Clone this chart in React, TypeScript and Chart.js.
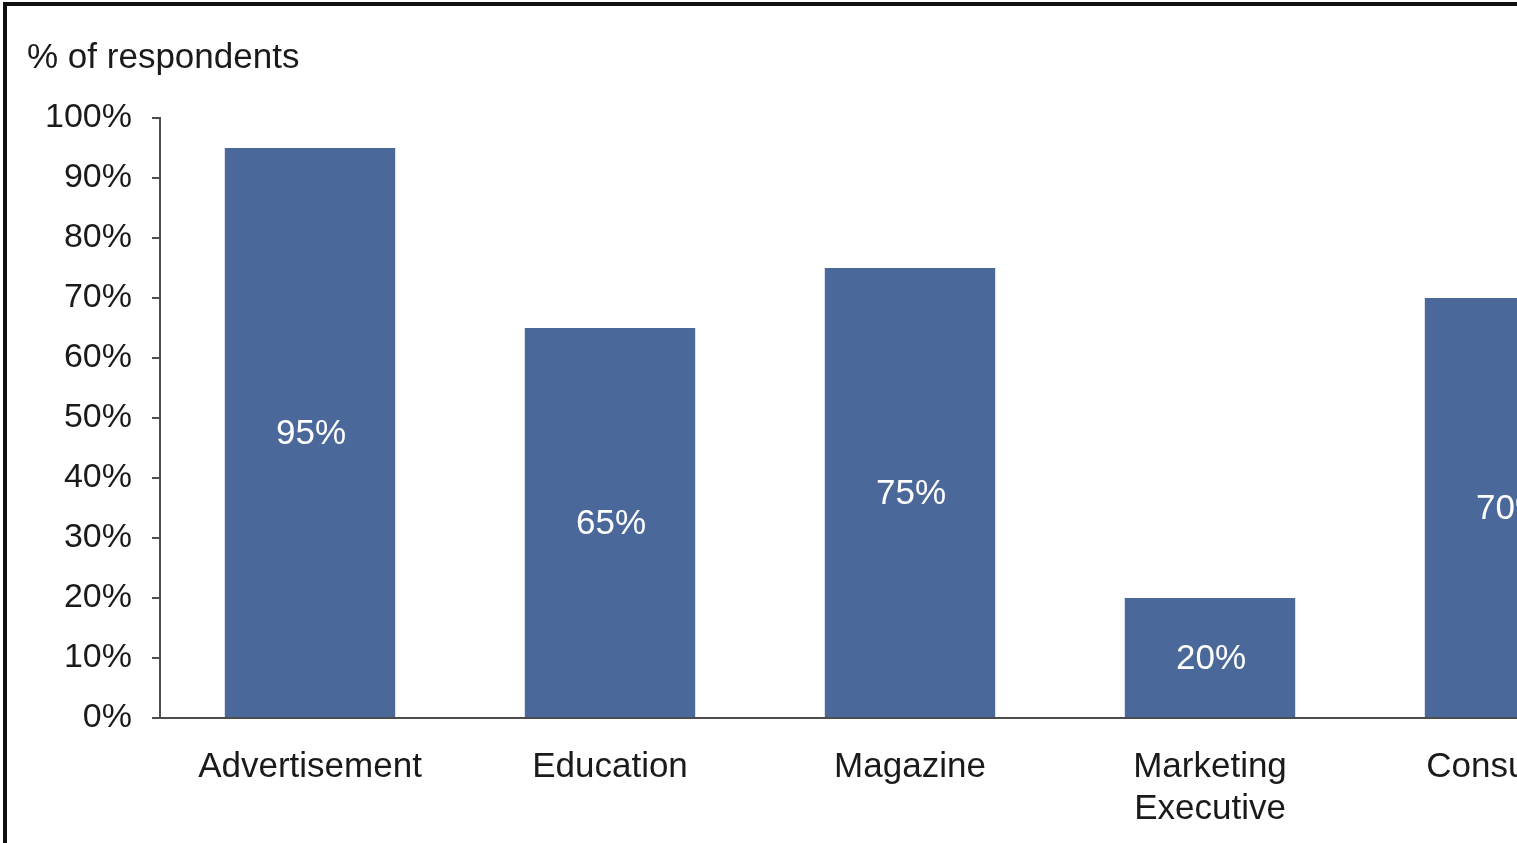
import React, { useEffect, useRef } from "react";
import { Chart, registerables } from "chart.js";

Chart.register(...registerables);

const categories: (string | string[])[] = [
  "Advertisement",
  "Education",
  "Magazine",
  ["Marketing", "Executive"],
  "Consultant",
];
const values: number[] = [95, 65, 75, 20, 70];
const yTickValues: number[] = [0, 10, 20, 30, 40, 50, 60, 70, 80, 90, 100];
const axisTitle = "% of respondents";

const FONT = "Arial, 'Liberation Sans', Helvetica, sans-serif";
const BAR = "#4a6899";
const TEXT = "#1a1a1a";
const AXIS = "#4d4d4d";

export default function App() {
  const ref = useRef<HTMLCanvasElement | null>(null);

  useEffect(() => {
    if (!ref.current) return;
    const labelPlugin = {
      id: "barLabels",
      afterDatasetsDraw(chart: any) {
        const ctx = chart.ctx;
        const meta = chart.getDatasetMeta(0);
        ctx.save();
        ctx.fillStyle = "#ffffff";
        ctx.font = `35px ${FONT}`;
        ctx.textAlign = "center";
        ctx.textBaseline = "middle";
        meta.data.forEach((el: any, i: number) => {
          const y = (el.y + el.base) / 2;
          ctx.fillText(values[i] + "%", el.x + 1, y + 2);
        });
        ctx.restore();
      },
      afterDraw(chart: any) {
        const ctx = chart.ctx;
        ctx.save();
        ctx.fillStyle = TEXT;
        ctx.font = `35px ${FONT}`;
        ctx.textAlign = "left";
        ctx.textBaseline = "alphabetic";
        ctx.fillText(axisTitle, 27, 68);
        ctx.restore();
      },
    };

    const chart = new Chart(ref.current, {
      type: "bar",
      data: {
        labels: categories,
        datasets: [
          {
            data: values,
            backgroundColor: BAR,
            borderWidth: 0,
            barPercentage: 0.71,
            categoryPercentage: 0.8,
          },
        ],
      },
      options: {
        animation: false,
        responsive: false,
        maintainAspectRatio: false,
        layout: { padding: { top: 118, right: 20, bottom: 0, left: 0 } },
        plugins: {
          legend: { display: false },
          tooltip: { enabled: false },
          title: { display: false },
        },
        scales: {
          x: {
            grid: { display: false, drawTicks: false },
            border: { display: true, color: AXIS, width: 2 },
            ticks: {
              color: TEXT,
              font: { family: FONT, size: 35, lineHeight: 1.18 },
              padding: 29,
              maxRotation: 0,
              autoSkip: false,
            },
            afterFit(scale: any) {
              scale.height = 125;
            },
          },
          y: {
            min: 0,
            max: 100,
            afterBuildTicks(scale: any) {
              scale.ticks = yTickValues.map((v) => ({ value: v }));
            },
            grid: {
              display: true,
              drawOnChartArea: false,
              drawTicks: true,
              tickLength: 8,
              color: AXIS,
              lineWidth: 2,
            },
            border: { display: true, color: AXIS, width: 2 },
            ticks: {
              color: TEXT,
              font: { family: FONT, size: 34 },
              padding: 20,
              callback: (v: any) => v + "%",
            },
            afterFit(scale: any) {
              scale.width = 160;
            },
          },
        },
      },
      plugins: [labelPlugin],
    });
    return () => chart.destroy();
  }, []);

  return (
    <div
      style={{
        position: "fixed",
        left: 0,
        top: 0,
        width: 1517,
        height: 843,
        overflow: "hidden",
        background: "#ffffff",
      }}
    >
      <canvas
        ref={ref}
        width={1680}
        height={843}
        style={{ position: "absolute", left: 0, top: 0, width: 1680, height: 843 }}
      />
      <div
        style={{
          position: "absolute",
          left: 3,
          top: 2,
          width: 1600,
          height: 900,
          borderTop: "4px solid #111",
          borderLeft: "4px solid #111",
          pointerEvents: "none",
        }}
      />
    </div>
  );
}
